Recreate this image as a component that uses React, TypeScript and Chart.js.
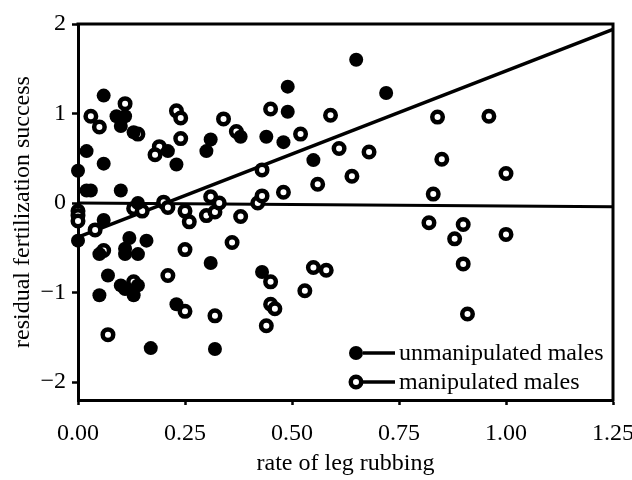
import React, { useEffect, useRef } from "react";
import { Chart, registerables } from "chart.js";

Chart.register(...registerables);

// ---- data ----
const unmanX = [0.0, 0.02, 0.06, 0.06, 0.09, 0.11, 0.1, 0.13, 0.21, 0.23, 0.3, 0.31, 0.02, 0.03, 0.1, 0.14, 0.0, 0.06, 0.12, 0.16, 0.11, 0.11, 0.05, 0.14, 0.07, 0.1, 0.11, 0.13, 0.14, 0.05, 0.31, 0.23, 0.17, 0.32, 0.43, 0.65, 0.72, 0.49, 0.49, 0.38, 0.44, 0.48, 0.55];
const unmanY = [0.36, 0.58, 0.44, 1.2, 0.97, 0.97, 0.86, 0.79, 0.58, 0.43, 0.58, 0.71, 0.14, 0.14, 0.14, 0.0, -0.42, -0.19, -0.39, -0.42, -0.51, -0.57, -0.57, -0.57, -0.81, -0.92, -0.96, -1.03, -0.92, -1.03, -0.67, -1.13, -1.62, -1.63, -0.77, 1.6, 1.23, 1.3, 1.02, 0.74, 0.74, 0.68, 0.48];

const manX = [0.03, 0.05, 0.11, 0.14, 0.19, 0.18, 0.23, 0.24, 0.24, 0.34, 0.37, 0.0, 0.0, 0.0, 0.04, 0.06, 0.13, 0.15, 0.2, 0.21, 0.25, 0.26, 0.31, 0.3, 0.32, 0.33, 0.38, 0.42, 0.36, 0.25, 0.21, 0.13, 0.25, 0.32, 0.07, 0.45, 0.59, 0.52, 0.43, 0.61, 0.68, 0.56, 0.64, 0.48, 0.43, 0.45, 0.55, 0.58, 0.53, 0.45, 0.46, 0.44, 0.84, 0.96, 0.85, 1.0, 0.83, 0.82, 0.9, 0.88, 1.0, 0.9, 0.91];
const manY = [0.97, 0.85, 1.11, 0.77, 0.63, 0.54, 1.03, 0.95, 0.72, 0.94, 0.8, -0.09, -0.14, -0.2, -0.3, -0.53, -0.06, -0.09, 0.01, -0.05, -0.09, -0.21, 0.07, -0.14, -0.1, 0.0, -0.15, 0.0, -0.44, -0.52, -0.81, -0.88, -1.21, -1.26, -1.47, 1.05, 0.98, 0.77, 0.37, 0.61, 0.57, 0.21, 0.3, 0.12, 0.08, -0.88, -0.72, -0.75, -0.98, -1.13, -1.18, -1.37, 0.96, 0.97, 0.49, 0.33, 0.1, -0.22, -0.24, -0.4, -0.35, -0.68, -1.24];

const fitUnmanX = [0, 1.25];
const fitUnmanY = [-0.38, 1.94];
const fitManX = [0, 1.25];
const fitManY = [0.0, -0.04];

const xTicks = [0, 0.25, 0.5, 0.75, 1.0, 1.25];
const yTicks = [-2, -1, 0, 1, 2];
const legendLabels = ["unmanipulated males", "manipulated males"];
const xTitle = "rate of leg rubbing";
const yTitle = "residual fertilization success";

const FONT = '"Liberation Serif", "Times New Roman", serif';

const pts = (xs: number[], ys: number[]) => xs.map((x, i) => ({ x, y: ys[i] }));

const framePlugin = {
  id: "frame",
  beforeDatasetsDraw(chart: any) {
    const { ctx, chartArea: a } = chart;
    ctx.save();
    ctx.strokeStyle = "#000";
    ctx.lineWidth = 3;
    ctx.beginPath();
    ctx.moveTo(a.left - 1.5, a.top);
    ctx.lineTo(a.right, a.top);
    ctx.lineTo(a.right, a.bottom + 1.5);
    ctx.stroke();
    ctx.restore();
  },
};

const legendPlugin = {
  id: "customLegend",
  afterDraw(chart: any) {
    const { ctx, chartArea: a } = chart;
    const cx = a.left + 278;
    const rowsY = [a.top + 329, a.top + 358];
    ctx.save();
    ctx.font = `24px ${FONT}`;
    ctx.textBaseline = "middle";
    ctx.textAlign = "left";
    ctx.fillStyle = "#000";
    legendLabels.forEach((label, i) => {
      const y = rowsY[i];
      ctx.beginPath();
      if (i === 0) {
        ctx.arc(cx, y, 7, 0, Math.PI * 2);
        ctx.fillStyle = "#000";
        ctx.fill();
      } else {
        ctx.arc(cx, y, 5.25, 0, Math.PI * 2);
        ctx.fillStyle = "#fff";
        ctx.fill();
        ctx.lineWidth = 4.5;
        ctx.strokeStyle = "#000";
        ctx.stroke();
      }
      ctx.beginPath();
      ctx.lineWidth = 3.5;
      ctx.strokeStyle = "#000";
      ctx.moveTo(cx + 7, y);
      ctx.lineTo(cx + 39, y);
      ctx.stroke();
      ctx.fillStyle = "#000";
      ctx.fillText(label, cx + 43, y + 1);
    });
    ctx.restore();
  },
};

export default function App() {
  const ref = useRef<HTMLCanvasElement | null>(null);

  useEffect(() => {
    if (!ref.current) return;
    const chart = new Chart(ref.current, {
      type: "scatter",
      data: {
        datasets: [
          {
            label: legendLabels[0],
            data: pts(unmanX, unmanY),
            pointRadius: 7,
            pointHoverRadius: 7,
            pointBackgroundColor: "#000",
            pointBorderWidth: 0,
            pointBorderColor: "#000",
            clip: false,
          } as any,
          {
            label: legendLabels[1],
            data: pts(manX, manY),
            pointRadius: 5.25,
            pointHoverRadius: 5.25,
            pointBackgroundColor: "#fff",
            pointBorderColor: "#000",
            pointBorderWidth: 4.5,
            clip: false,
          } as any,
          {
            label: "fit unmanipulated",
            data: pts(fitUnmanX, fitUnmanY),
            showLine: true,
            pointRadius: 0,
            borderColor: "#000",
            borderWidth: 3.5,
            fill: false,
          } as any,
          {
            label: "fit manipulated",
            data: pts(fitManX, fitManY),
            showLine: true,
            pointRadius: 0,
            borderColor: "#000",
            borderWidth: 3,
            fill: false,
          } as any,
        ],
      },
      options: {
        animation: false,
        responsive: false,
        maintainAspectRatio: false,
        events: [],
        layout: { padding: { top: 24, right: 19, left: 0, bottom: 0 } },
        plugins: {
          legend: { display: false },
          tooltip: { enabled: false },
        },
        scales: {
          x: {
            type: "linear",
            min: 0,
            max: 1.25,
            afterBuildTicks: (s: any) => {
              s.ticks = xTicks.map((v) => ({ value: v }));
            },
            afterFit: (s: any) => {
              s.height = 80;
              s.paddingLeft = 0;
              s.paddingRight = 0;
            },
            ticks: {
              font: { family: FONT, size: 24 },
              color: "#000",
              padding: 14,
              maxRotation: 0,
              callback: (v: any) => Number(v).toFixed(2),
            },
            grid: {
              display: true,
              drawOnChartArea: false,
              drawTicks: true,
              tickLength: 5,
              tickWidth: 2.5,
              tickColor: "#000",
            },
            border: { display: true, color: "#000", width: 3 },
            title: {
              display: true,
              text: xTitle,
              font: { family: FONT, size: 24 },
              color: "#000",
              padding: { top: 0, bottom: 2 },
            },
          },
          y: {
            type: "linear",
            min: -2.2,
            max: 2,
            afterBuildTicks: (s: any) => {
              s.ticks = yTicks.map((v) => ({ value: v }));
            },
            afterFit: (s: any) => {
              s.width = 78;
              s.paddingTop = 0;
              s.paddingBottom = 0;
            },
            ticks: {
              font: { family: FONT, size: 24 },
              color: "#000",
              padding: 6,
              callback: (v: any) => (Number(v) < 0 ? "\u2212" + Math.abs(Number(v)) : String(v)),
            },
            grid: {
              display: true,
              drawOnChartArea: false,
              drawTicks: true,
              tickLength: 6,
              tickWidth: 2.5,
              tickColor: "#000",
            },
            border: { display: true, color: "#000", width: 3 },
            title: {
              display: true,
              text: yTitle,
              font: { family: FONT, size: 24 },
              color: "#000",
              padding: { top: 8, bottom: 0 },
            },
          },
        },
      },
      plugins: [framePlugin, legendPlugin],
    } as any);
    return () => chart.destroy();
  }, []);

  return (
    <div style={{ position: "fixed", left: 0, top: 0, width: 632, height: 480, background: "#fff" }}>
      <canvas ref={ref} width={632} height={480} style={{ width: 632, height: 480, display: "block" }} />
    </div>
  );
}
